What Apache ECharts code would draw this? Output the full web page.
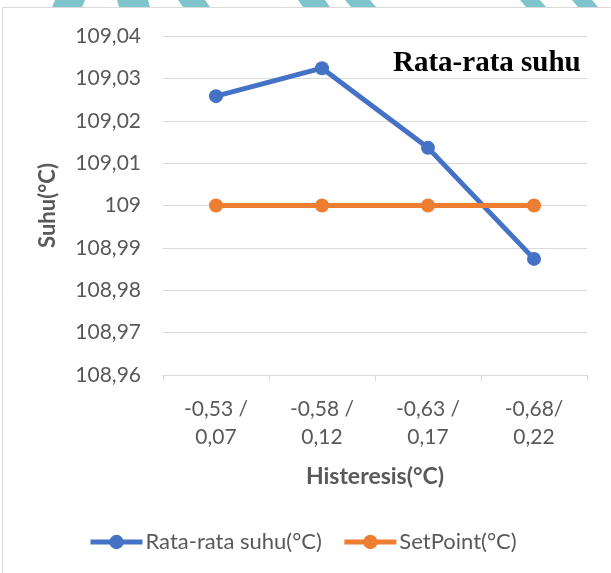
<!DOCTYPE html>
<html><head><meta charset="utf-8">
<script src="https://cdn.jsdelivr.net/npm/echarts@6/dist/echarts.min.js"></script>
<style>html,body{margin:0;padding:0;background:#fff}#c{width:611px;height:573px}</style>
</head><body><div id="c"></div>
<script>
var categories = ['-0,53 /\n0,07', '-0,58 /\n0,12', '-0,63 /\n0,17', '-0,68/\n0,22'];
var rataRataSuhu = [109.0258, 109.0324, 109.0136, 108.9874];
var setPoint = [109, 109, 109, 109];
var yTicks = {min: 108.96, max: 109.04, interval: 0.01};

var chart = echarts.init(document.getElementById('c'));
var font = 'Lato, "Open Sans", sans-serif';
chart.setOption({
  backgroundColor: '#fff',
  animation: false,
  title: {
    text: 'Rata-rata suhu', left: 388, top: 44,
    textStyle: {fontFamily: '"Liberation Serif", "Times New Roman", serif', fontWeight: 'bold', fontSize: 29, color: '#000'}
  },
  grid: {left: 163, right: 24, top: 36, bottom: 198},
  legend: {
    top: 531, left: 88, itemWidth: 52, itemHeight: 18, itemGap: 20, padding: 0,
    textStyle: {fontFamily: font, fontSize: 22, color: '#595959', padding: [0,0,0,-2]},
    lineStyle: {width: 5},
    data: ['Rata-rata suhu(°C)', 'SetPoint(°C)']
  },
  xAxis: {
    type: 'category', data: categories, boundaryGap: true,
    name: 'Histeresis(°C)', nameLocation: 'middle', nameGap: 90,
    nameTextStyle: {fontFamily: font, fontSize: 23, fontWeight: 'bold', color: '#595959'},
    axisLine: {lineStyle: {color: '#d9d9d9', width: 1}},
    axisTick: {show: true, length: 6, alignWithLabel: false, lineStyle: {color: '#d9d9d9'}},
    axisLabel: {fontFamily: font, fontSize: 21, color: '#595959', lineHeight: 28, margin: 20}
  },
  yAxis: {
    type: 'value', min: yTicks.min, max: yTicks.max, interval: yTicks.interval,
    name: 'Suhu(°C)', nameLocation: 'middle', nameGap: 104,
    nameTextStyle: {fontFamily: font, fontSize: 22, fontWeight: 'bold', color: '#595959'},
    axisLine: {show: false}, axisTick: {show: false},
    splitLine: {lineStyle: {color: '#d9d9d9', width: 1}},
    axisLabel: {fontFamily: font, fontSize: 21, color: '#595959', margin: 22,
      formatter: function(v){ return String(Math.round(v*100)/100).replace('.', ','); }}
  },
  series: [
    {name: 'Rata-rata suhu(°C)', type: 'line', data: rataRataSuhu, symbol: 'circle', symbolSize: 14,
     itemStyle: {color: '#4472C4'}, lineStyle: {color: '#4472C4', width: 5}, z: 3},
    {name: 'SetPoint(°C)', type: 'line', data: setPoint, symbol: 'circle', symbolSize: 14,
     itemStyle: {color: '#ED7D31'}, lineStyle: {color: '#ED7D31', width: 5}, z: 4}
  ],
  graphic: [
    {type: 'rect', shape: {x: 2.5, y: 7.5, width: 640, height: 600}, style: {fill: 'none', stroke: '#d9d9d9', lineWidth: 1}, z: -1},
    {type: 'polygon', shape: {points: [[55,0],[85,0],[82,7],[52,7]]}, style: {fill: '#7fc4cc'}},
    {type: 'polygon', shape: {points: [[117,0],[148,0],[150,7],[119,7]]}, style: {fill: '#7fc4cc'}},
    {type: 'polygon', shape: {points: [[178,0],[205,0],[210,7],[183,7]]}, style: {fill: '#7fc4cc'}},
    {type: 'polygon', shape: {points: [[298,0],[325,0],[330,7],[303,7]]}, style: {fill: '#7fc4cc'}},
    {type: 'polygon', shape: {points: [[345,0],[370,0],[376,7],[351,7]]}, style: {fill: '#7fc4cc'}},
    {type: 'polygon', shape: {points: [[520,0],[540,0],[546,7],[526,7]]}, style: {fill: '#7fc4cc'}},
    {type: 'polygon', shape: {points: [[572,0],[592,0],[598,7],[578,7]]}, style: {fill: '#7fc4cc'}}
  ]
});
</script></body></html>
